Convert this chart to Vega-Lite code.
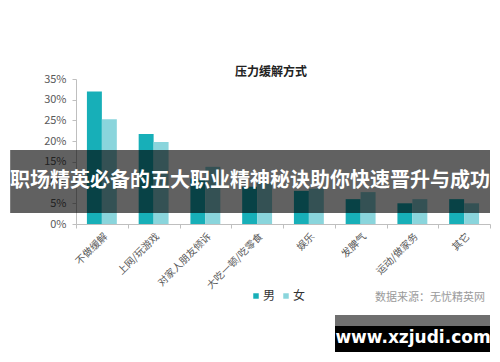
{
  "$schema": "https://vega.github.io/schema/vega-lite/v6.json",
  "width": 414,
  "height": 145,
  "autosize": {"type": "none"},
  "padding": {"left": 76, "top": 79, "right": 10, "bottom": 138},
  "background": "white",
  "config": {
    "font": "Noto Sans CJK SC",
    "view": {"stroke": null},
    "axis": {"domainColor": "#bfbfbf", "tickColor": "#bfbfbf", "labelColor": "#595959", "grid": false}
  },
  "layer": [
    {
      "data": {
        "values": [
          {"cat": "不做缓解", "sex": "男", "value": 0.32},
          {"cat": "不做缓解", "sex": "女", "value": 0.253},
          {"cat": "上网/玩游戏", "sex": "男", "value": 0.217},
          {"cat": "上网/玩游戏", "sex": "女", "value": 0.198},
          {"cat": "对家人朋友倾诉", "sex": "男", "value": 0.11},
          {"cat": "对家人朋友倾诉", "sex": "女", "value": 0.138},
          {"cat": "大吃一顿/吃零食", "sex": "男", "value": 0.09},
          {"cat": "大吃一顿/吃零食", "sex": "女", "value": 0.1},
          {"cat": "娱乐", "sex": "男", "value": 0.08},
          {"cat": "娱乐", "sex": "女", "value": 0.085},
          {"cat": "发脾气", "sex": "男", "value": 0.06},
          {"cat": "发脾气", "sex": "女", "value": 0.077},
          {"cat": "运动/做家务", "sex": "男", "value": 0.05},
          {"cat": "运动/做家务", "sex": "女", "value": 0.06},
          {"cat": "其它", "sex": "男", "value": 0.06},
          {"cat": "其它", "sex": "女", "value": 0.05}
        ]
      },
      "mark": {"type": "bar"},
      "encoding": {
        "x": {
          "field": "cat", "type": "nominal", "sort": null, "title": null,
          "scale": {"paddingInner": 0, "paddingOuter": 0},
          "axis": {"labelAngle": -45, "labelFontSize": 10, "tickBand": "extent", "tickSize": 4, "labelPadding": 3}
        },
        "xOffset": {"field": "sex", "type": "nominal", "sort": ["男", "女"], "scale": {"paddingInner": 0, "paddingOuter": 0.73}},
        "y": {
          "field": "value", "type": "quantitative", "title": null,
          "scale": {"domain": [0, 0.35], "nice": false},
          "axis": {"values": [0, 0.05, 0.1, 0.15, 0.2, 0.25, 0.3, 0.35], "format": ".0%", "labelFontSize": 11, "tickSize": 4, "labelPadding": 6}
        },
        "color": {
          "field": "sex", "type": "nominal", "title": null,
          "scale": {"domain": ["男", "女"], "range": ["#17AFB8", "#8AD5DC"]},
          "legend": {"orient": "none", "legendX": 174, "legendY": 211, "direction": "horizontal", "symbolType": "square", "symbolSize": 30, "labelFontSize": 12, "labelColor": "#333333", "columnPadding": 4, "labelOffset": 1}
        }
      }
    },
    {
      "data": {"values": [{}]},
      "mark": {"type": "text", "text": "压力缓解方式", "fontWeight": "bold", "fontSize": 12, "color": "#222222"},
      "encoding": {
        "x": {"datum": 0.471, "type": "quantitative", "scale": {"domain": [0, 1], "nice": false, "zero": false}, "axis": null},
        "y": {"datum": 1.048, "type": "quantitative", "scale": {"domain": [0, 1], "nice": false, "zero": false}, "axis": null}
      }
    },
    {
      "data": {"values": [{}]},
      "mark": {"type": "text", "text": "数据来源：无忧精英网", "fontSize": 11, "color": "#9a9a9a", "align": "right"},
      "encoding": {
        "x": {"datum": 0.988, "type": "quantitative", "scale": {"domain": [0, 1], "nice": false, "zero": false}, "axis": null},
        "y": {"datum": -0.51, "type": "quantitative", "scale": {"domain": [0, 1], "nice": false, "zero": false}, "axis": null}
      }
    },
    {
      "data": {"values": [{}]},
      "mark": {"type": "rect", "fill": "#000000", "opacity": 0.62},
      "encoding": {
        "x": {"datum": -0.159, "type": "quantitative", "scale": {"domain": [0, 1], "nice": false, "zero": false}, "axis": null},
        "x2": {"datum": 1.0},
        "y": {"datum": 0.51, "type": "quantitative", "scale": {"domain": [0, 1], "nice": false, "zero": false}, "axis": null},
        "y2": {"datum": 0.076}
      }
    },
    {
      "data": {"values": [{}]},
      "mark": {"type": "text", "text": "职场精英必备的五大职业精神秘诀助你快速晋升与成功", "fontSize": 20, "fontWeight": "bold", "color": "#ffffff"},
      "encoding": {
        "x": {"datum": 0.42, "type": "quantitative", "scale": {"domain": [0, 1], "nice": false, "zero": false}, "axis": null},
        "y": {"datum": 0.297, "type": "quantitative", "scale": {"domain": [0, 1], "nice": false, "zero": false}, "axis": null}
      }
    },
    {
      "data": {"values": [{}]},
      "mark": {"type": "rect", "fill": "#6f6f6f"},
      "encoding": {
        "x": {"datum": 0.6256, "type": "quantitative", "scale": {"domain": [0, 1], "nice": false, "zero": false}, "axis": null},
        "x2": {"datum": 1.0},
        "y": {"datum": -0.6276, "type": "quantitative", "scale": {"domain": [0, 1], "nice": false, "zero": false}, "axis": null},
        "y2": {"datum": -0.7034}
      }
    },
    {
      "data": {"values": [{}]},
      "mark": {"type": "rect", "fill": "#000000"},
      "encoding": {
        "x": {"datum": 0.6256, "type": "quantitative", "scale": {"domain": [0, 1], "nice": false, "zero": false}, "axis": null},
        "x2": {"datum": 1.0},
        "y": {"datum": -0.7034, "type": "quantitative", "scale": {"domain": [0, 1], "nice": false, "zero": false}, "axis": null},
        "y2": {"datum": -0.883}
      }
    },
    {
      "data": {"values": [{}]},
      "mark": {"type": "text", "text": "www.xzjudi.com", "font": "DejaVu Sans", "fontSize": 17, "fontWeight": "bold", "color": "#ffffff"},
      "encoding": {
        "x": {"datum": 0.814, "type": "quantitative", "scale": {"domain": [0, 1], "nice": false, "zero": false}, "axis": null},
        "y": {"datum": -0.786, "type": "quantitative", "scale": {"domain": [0, 1], "nice": false, "zero": false}, "axis": null}
      }
    }
  ],
  "resolve": {"scale": {"x": "independent", "y": "independent"}}
}
